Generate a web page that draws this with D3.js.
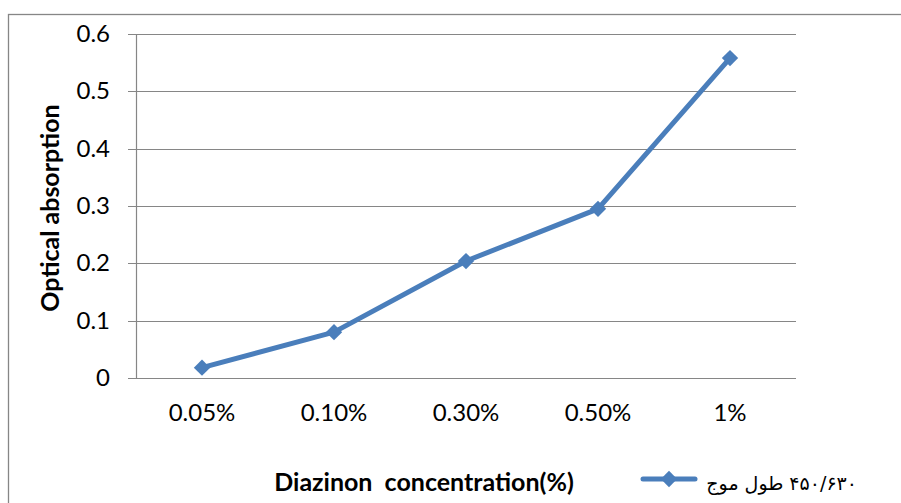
<!DOCTYPE html>
<html>
<head>
<meta charset="utf-8">
<script src="https://cdn.jsdelivr.net/npm/d3@7/dist/d3.min.js"></script>
<style>
  html, body { margin: 0; padding: 0; background: #fff; }
  svg { display: block; }
</style>
</head>
<body>
<svg id="chart" width="901" height="503"></svg>
<script>
// Diazinon concentration levels and measured optical absorption
const categories = ["0.05%", "0.10%", "0.30%", "0.50%", "1%"];
const absorption = [0.018, 0.080, 0.204, 0.295, 0.558];
const yTicks = [0, 0.1, 0.2, 0.3, 0.4, 0.5, 0.6];
// legend label words, in reading (right-to-left) order
const legendWords = ["۴۵۰/۶۳۰", "طول", "موج"];
const xTitle = "Diazinon  concentration(%)";
const yTitle = "Optical absorption";

const W = 901, H = 503;
const plot = { left: 136, right: 796, top: 34, bottom: 378 };
const lineColor = "#4A7EBB";
const gridColor = "#868686";
const font = "Lato, 'Open Sans', sans-serif";

const svg = d3.select("#chart");

// outer chart frame
svg.append("rect")
  .attr("x", 8.5).attr("y", 14.5)
  .attr("width", W + 20).attr("height", H + 20)
  .attr("fill", "#fff").attr("stroke", gridColor).attr("stroke-width", 1.3);

const x = d3.scaleBand().domain(categories).range([plot.left, plot.right]);
const y = d3.scaleLinear().domain([0, 0.6]).range([plot.bottom, plot.top]);

// horizontal gridlines with outward ticks
svg.append("g")
  .selectAll("line")
  .data(yTicks)
  .join("line")
  .attr("x1", plot.left - 8).attr("x2", plot.right)
  .attr("y1", d => Math.round(y(d)) + 0.5).attr("y2", d => Math.round(y(d)) + 0.5)
  .attr("stroke", gridColor).attr("stroke-width", 1.2);

// vertical axis line
svg.append("line")
  .attr("x1", plot.left + 0.5).attr("x2", plot.left + 0.5)
  .attr("y1", y(0.6)).attr("y2", y(0) + 0.5)
  .attr("stroke", gridColor).attr("stroke-width", 1.2);

// y tick labels
svg.append("g")
  .selectAll("text")
  .data(yTicks)
  .join("text")
  .attr("x", 110).attr("y", d => y(d) + 8)
  .attr("text-anchor", "end")
  .attr("font-family", font).attr("font-size", 24).attr("fill", "#000")
  .text(d => d3.format("")(d));

// x tick labels
svg.append("g")
  .selectAll("text")
  .data(categories)
  .join("text")
  .attr("x", d => x(d) + x.bandwidth() / 2).attr("y", 421)
  .attr("text-anchor", "middle")
  .attr("font-family", font).attr("font-size", 24).attr("fill", "#000")
  .text(d => d);

// axis titles
svg.append("text")
  .attr("x", 424).attr("y", 491)
  .attr("text-anchor", "middle")
  .attr("font-family", font).attr("font-size", 25).attr("font-weight", "bold")
  .attr("xml:space", "preserve").style("white-space", "pre")
  .text(xTitle);

svg.append("text")
  .attr("transform", `translate(59, ${(plot.top + plot.bottom) / 2 + 2}) rotate(-90)`)
  .attr("text-anchor", "middle")
  .attr("font-family", font).attr("font-size", 25).attr("font-weight", "bold")
  .text(yTitle);

// data line
const pts = categories.map((c, i) => [x(c) + x.bandwidth() / 2, y(absorption[i])]);
svg.append("path")
  .attr("d", d3.line()(pts))
  .attr("fill", "none").attr("stroke", lineColor)
  .attr("stroke-width", 5).attr("stroke-linejoin", "round");

const diamond = d3.symbol().type(d3.symbolDiamond2).size(170);
svg.append("g")
  .selectAll("path")
  .data(pts)
  .join("path")
  .attr("transform", d => `translate(${d[0]},${d[1]})`)
  .attr("d", diamond)
  .attr("fill", lineColor);

// legend
const lg = svg.append("g").attr("transform", "translate(641, 479)");
lg.append("line")
  .attr("x1", 2).attr("x2", 54).attr("y1", 0).attr("y2", 0)
  .attr("stroke", lineColor).attr("stroke-width", 5).attr("stroke-linecap", "round");
lg.append("path")
  .attr("transform", "translate(28,0)")
  .attr("d", diamond)
  .attr("fill", lineColor);

// legend label: words placed right to left, starting from the right edge
const wordGap = 6;
let rightEdge = 857;
const words = svg.append("g");
legendWords.forEach(w => {
  const t = words.append("text")
    .attr("x", rightEdge).attr("y", 490)
    .attr("text-anchor", "end")
    .attr("font-family", "'DejaVu Sans', sans-serif")
    .attr("font-size", 19).attr("fill", "#000")
    .text(w);
  rightEdge -= t.node().getComputedTextLength() + wordGap;
});
</script>
</body>
</html>
